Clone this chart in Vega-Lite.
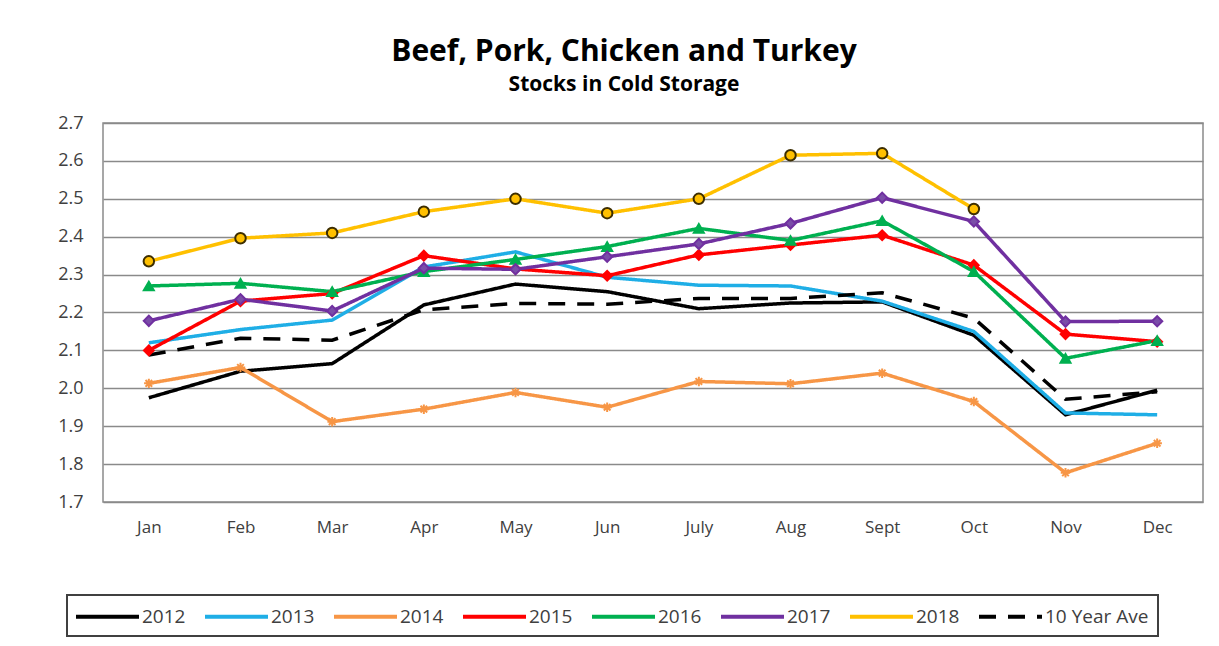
{
  "$schema": "https://vega.github.io/schema/vega-lite/v6.json",
  "width": 1100,
  "height": 379,
  "autosize": {"type": "none"},
  "padding": {"left": 103, "top": 123, "right": 16, "bottom": 144},
  "background": "white",
  "title": {
    "text": "Beef, Pork, Chicken and Turkey",
    "subtitle": "Stocks in Cold Storage",
    "anchor": "middle",
    "frame": "group",
    "dx": -29,
    "offset": 19,
    "fontSize": 30,
    "fontWeight": "bold",
    "color": "#000000",
    "subtitleFontSize": 21,
    "subtitleFontWeight": "bold",
    "subtitleColor": "#000000",
    "subtitlePadding": 7
  },
  "data": {
    "values": [
      {"month": "Jan", "series": "2012", "value": 1.975},
      {"month": "Feb", "series": "2012", "value": 2.045},
      {"month": "Mar", "series": "2012", "value": 2.065},
      {"month": "Apr", "series": "2012", "value": 2.22},
      {"month": "May", "series": "2012", "value": 2.275},
      {"month": "Jun", "series": "2012", "value": 2.255},
      {"month": "July", "series": "2012", "value": 2.21},
      {"month": "Aug", "series": "2012", "value": 2.225},
      {"month": "Sept", "series": "2012", "value": 2.228},
      {"month": "Oct", "series": "2012", "value": 2.14},
      {"month": "Nov", "series": "2012", "value": 1.93},
      {"month": "Dec", "series": "2012", "value": 1.995},
      {"month": "Jan", "series": "2013", "value": 2.12},
      {"month": "Feb", "series": "2013", "value": 2.155},
      {"month": "Mar", "series": "2013", "value": 2.18},
      {"month": "Apr", "series": "2013", "value": 2.32},
      {"month": "May", "series": "2013", "value": 2.36},
      {"month": "Jun", "series": "2013", "value": 2.293},
      {"month": "July", "series": "2013", "value": 2.272},
      {"month": "Aug", "series": "2013", "value": 2.27},
      {"month": "Sept", "series": "2013", "value": 2.23},
      {"month": "Oct", "series": "2013", "value": 2.15},
      {"month": "Nov", "series": "2013", "value": 1.935},
      {"month": "Dec", "series": "2013", "value": 1.93},
      {"month": "Jan", "series": "2014", "value": 2.013},
      {"month": "Feb", "series": "2014", "value": 2.055},
      {"month": "Mar", "series": "2014", "value": 1.912},
      {"month": "Apr", "series": "2014", "value": 1.945},
      {"month": "May", "series": "2014", "value": 1.989},
      {"month": "Jun", "series": "2014", "value": 1.95},
      {"month": "July", "series": "2014", "value": 2.018},
      {"month": "Aug", "series": "2014", "value": 2.012},
      {"month": "Sept", "series": "2014", "value": 2.04},
      {"month": "Oct", "series": "2014", "value": 1.965},
      {"month": "Nov", "series": "2014", "value": 1.777},
      {"month": "Dec", "series": "2014", "value": 1.855},
      {"month": "Jan", "series": "2015", "value": 2.1},
      {"month": "Feb", "series": "2015", "value": 2.23},
      {"month": "Mar", "series": "2015", "value": 2.25},
      {"month": "Apr", "series": "2015", "value": 2.35},
      {"month": "May", "series": "2015", "value": 2.315},
      {"month": "Jun", "series": "2015", "value": 2.297},
      {"month": "July", "series": "2015", "value": 2.352},
      {"month": "Aug", "series": "2015", "value": 2.378},
      {"month": "Sept", "series": "2015", "value": 2.404},
      {"month": "Oct", "series": "2015", "value": 2.325},
      {"month": "Nov", "series": "2015", "value": 2.143},
      {"month": "Dec", "series": "2015", "value": 2.123},
      {"month": "Jan", "series": "2016", "value": 2.27},
      {"month": "Feb", "series": "2016", "value": 2.277},
      {"month": "Mar", "series": "2016", "value": 2.255},
      {"month": "Apr", "series": "2016", "value": 2.308},
      {"month": "May", "series": "2016", "value": 2.34},
      {"month": "Jun", "series": "2016", "value": 2.374},
      {"month": "July", "series": "2016", "value": 2.422},
      {"month": "Aug", "series": "2016", "value": 2.39},
      {"month": "Sept", "series": "2016", "value": 2.442},
      {"month": "Oct", "series": "2016", "value": 2.308},
      {"month": "Nov", "series": "2016", "value": 2.079},
      {"month": "Dec", "series": "2016", "value": 2.126},
      {"month": "Jan", "series": "2017", "value": 2.178},
      {"month": "Feb", "series": "2017", "value": 2.235},
      {"month": "Mar", "series": "2017", "value": 2.204},
      {"month": "Apr", "series": "2017", "value": 2.317},
      {"month": "May", "series": "2017", "value": 2.314},
      {"month": "Jun", "series": "2017", "value": 2.347},
      {"month": "July", "series": "2017", "value": 2.381},
      {"month": "Aug", "series": "2017", "value": 2.435},
      {"month": "Sept", "series": "2017", "value": 2.503},
      {"month": "Oct", "series": "2017", "value": 2.44},
      {"month": "Nov", "series": "2017", "value": 2.176},
      {"month": "Dec", "series": "2017", "value": 2.177},
      {"month": "Jan", "series": "2018", "value": 2.335},
      {"month": "Feb", "series": "2018", "value": 2.396},
      {"month": "Mar", "series": "2018", "value": 2.41},
      {"month": "Apr", "series": "2018", "value": 2.466},
      {"month": "May", "series": "2018", "value": 2.5},
      {"month": "Jun", "series": "2018", "value": 2.462},
      {"month": "July", "series": "2018", "value": 2.5},
      {"month": "Aug", "series": "2018", "value": 2.615},
      {"month": "Sept", "series": "2018", "value": 2.62},
      {"month": "Oct", "series": "2018", "value": 2.473},
      {"month": "Jan", "series": "10 Year Ave", "value": 2.088},
      {"month": "Feb", "series": "10 Year Ave", "value": 2.132},
      {"month": "Mar", "series": "10 Year Ave", "value": 2.127},
      {"month": "Apr", "series": "10 Year Ave", "value": 2.207},
      {"month": "May", "series": "10 Year Ave", "value": 2.224},
      {"month": "Jun", "series": "10 Year Ave", "value": 2.222},
      {"month": "July", "series": "10 Year Ave", "value": 2.237},
      {"month": "Aug", "series": "10 Year Ave", "value": 2.237},
      {"month": "Sept", "series": "10 Year Ave", "value": 2.252},
      {"month": "Oct", "series": "10 Year Ave", "value": 2.185},
      {"month": "Nov", "series": "10 Year Ave", "value": 1.971},
      {"month": "Dec", "series": "10 Year Ave", "value": 1.991}
    ]
  },
  "encoding": {
    "x": {
      "field": "month",
      "type": "ordinal",
      "sort": ["Jan", "Feb", "Mar", "Apr", "May", "Jun", "July", "Aug", "Sept", "Oct", "Nov", "Dec"],
      "scale": {"type": "point", "padding": 0.5},
      "axis": {"title": null, "labelAngle": 0, "ticks": false, "domain": false, "grid": false, "labelPadding": 17, "labelFontSize": 17, "labelColor": "#404040"}
    },
    "y": {
      "field": "value",
      "type": "quantitative",
      "scale": {"domain": [1.7, 2.7], "nice": false, "zero": false},
      "axis": {"title": null, "values": [1.7, 1.8, 1.9, 2.0, 2.1, 2.2, 2.3, 2.4, 2.5, 2.6, 2.7], "format": ".1f", "ticks": false, "domain": false, "grid": true, "gridColor": "#8a8a8a", "gridWidth": 1.5, "labelPadding": 20, "labelFontSize": 18, "labelColor": "#404040"}
    }
  },
  "layer": [
    {
      "mark": {"type": "line", "strokeWidth": 3.5},
      "encoding": {
        "color": {
          "field": "series",
          "type": "nominal",
          "scale": {
            "domain": ["2012", "2013", "2014", "2015", "2016", "2017", "2018", "10 Year Ave"],
            "range": ["#000000", "#1FAEE6", "#F79646", "#FF0000", "#00B050", "#7030A0", "#FFC000", "#000000"]
          },
          "legend": {
            "title": null,
            "orient": "none",
            "legendX": -36,
            "legendY": 472,
            "direction": "horizontal",
            "columns": 8,
            "symbolType": "M-3,0L3,0",
            "symbolSize": 441,
            "symbolStrokeWidth": 4,
            "symbolOffset": 19,
            "labelFontSize": 19,
            "labelColor": "#404040",
            "labelOffset": 22,
            "columnPadding": 11,
            "padding": 9,
            "strokeColor": "#404040",
            "encode": {"legend": {"update": {"strokeWidth": {"value": 2}}}}
          }
        },
        "strokeDash": {
          "field": "series",
          "type": "nominal",
          "scale": {
            "domain": ["2012", "2013", "2014", "2015", "2016", "2017", "2018", "10 Year Ave"],
            "range": [[1, 0], [1, 0], [1, 0], [1, 0], [1, 0], [1, 0], [1, 0], [17, 12]]
          },
          "legend": null
        }
      }
    },
    {
      "transform": [{"filter": {"field": "series", "oneOf": ["2014", "2015", "2016", "2017", "2018"]}}],
      "mark": {"type": "point", "filled": true, "strokeWidth": 2, "opacity": 1},
      "encoding": {
        "shape": {
          "field": "series",
          "type": "nominal",
          "scale": {
            "domain": ["2014", "2015", "2016", "2017", "2018"],
            "range": ["M-1,0L1,0M0,-1L0,1M-0.7,-0.7L0.7,0.7M-0.7,0.7L0.7,-0.7", "diamond", "triangle-up", "diamond", "circle"]
          },
          "legend": null
        },
        "fill": {
          "field": "series",
          "type": "nominal",
          "scale": {
            "domain": ["2014", "2015", "2016", "2017", "2018"],
            "range": ["#F79646", "#FF0000", "#00B050", "#7A4DA8", "#FFC000"]
          },
          "legend": null
        },
        "stroke": {
          "field": "series",
          "type": "nominal",
          "scale": {
            "domain": ["2014", "2015", "2016", "2017", "2018"],
            "range": ["#F79646", "#FF0000", "#00B050", "#7030A0", "#3D2E00"]
          },
          "legend": null
        },
        "size": {
          "field": "series",
          "type": "nominal",
          "scale": {
            "domain": ["2014", "2015", "2016", "2017", "2018"],
            "range": [90, 110, 110, 90, 260]
          },
          "legend": null
        }
      }
    }
  ],
  "config": {
    "font": "Open Sans",
    "view": {"stroke": "#8a8a8a", "strokeWidth": 1.5}
  }
}
